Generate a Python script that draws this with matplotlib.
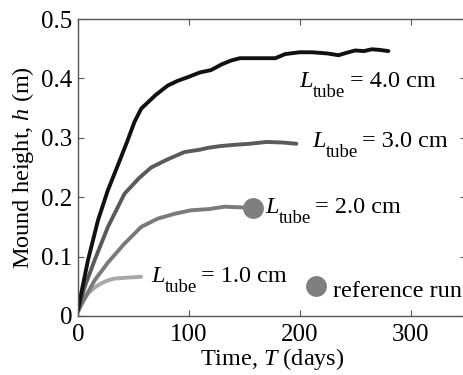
import matplotlib
matplotlib.use("Agg")
import matplotlib.pyplot as plt

plt.rcParams['font.family'] = ['Liberation Serif', 'DejaVu Serif']
plt.rcParams['mathtext.fontset'] = 'custom'
plt.rcParams['mathtext.rm'] = 'Liberation Serif'
plt.rcParams['mathtext.it'] = 'Liberation Serif:italic'

# Data
t_40 = [0, 3, 9, 18, 27, 36, 44, 51, 57, 70, 81, 90, 99, 110, 120, 130, 138, 146,
        160, 173, 178, 187, 200, 211, 225, 235, 242, 250, 258, 265, 272, 280]
h_40 = [0.01, 0.039, 0.094, 0.161, 0.212, 0.254, 0.292, 0.327, 0.349, 0.372, 0.388,
        0.396, 0.402, 0.410, 0.414, 0.424, 0.430, 0.434, 0.434, 0.434, 0.434, 0.441,
        0.444, 0.444, 0.442, 0.439, 0.443, 0.447, 0.446, 0.449, 0.448, 0.446]

t_30 = [0, 6, 15, 27, 42, 55, 66, 80, 96, 110, 117, 128, 140, 155, 170, 185, 197]
h_30 = [0.01, 0.049, 0.094, 0.150, 0.206, 0.232, 0.250, 0.263, 0.276, 0.280, 0.283,
        0.286, 0.288, 0.290, 0.293, 0.292, 0.290]

t_20 = [0, 6, 15, 27, 42, 57, 72, 87, 102, 118, 132, 145, 158]
h_20 = [0.008, 0.03, 0.06, 0.09, 0.122, 0.150, 0.164, 0.172, 0.178, 0.180, 0.184,
        0.183, 0.182]

t_10 = [0, 2, 9, 15, 21, 27, 33, 40, 48, 57]
h_10 = [0.005, 0.016, 0.038, 0.048, 0.055, 0.060, 0.063, 0.064, 0.065, 0.066]

ref_point = (158, 0.181)
legend_point = (215, 0.050)

label_values = ['= 4.0 cm', '= 3.0 cm', '= 2.0 cm', '= 1.0 cm']
label_pos = [(200, 0.385), (211, 0.285), (169, 0.173), (66, 0.058)]

x_ticks = [0, 100, 200, 300]
y_ticks = [0, 0.1, 0.2, 0.3, 0.4, 0.5]
y_ticklabels = ['0', '0.1', '0.2', '0.3', '0.4', '0.5']

fig = plt.figure(figsize=(4.64, 3.75), dpi=100)
ax = fig.add_axes([78/464, 1-316/375, (466-78)/464, (316-19)/375])

ax.plot(t_10, h_10, color='#a8a8a8', lw=2.8, solid_capstyle='round')
ax.plot(t_20, h_20, color='#7a7a7a', lw=2.8, solid_capstyle='round')
ax.plot(t_30, h_30, color='#5a5a5a', lw=2.8, solid_capstyle='round')
ax.plot(t_40, h_40, color='#111111', lw=2.8, solid_capstyle='round')

ax.plot([ref_point[0]], [ref_point[1]], 'o', color='#7f7f7f', ms=15, mec='none')
ax.plot([legend_point[0]], [legend_point[1]], 'o', color='#7f7f7f', ms=15, mec='none')
ax.text(230, 0.0325, 'reference run', fontsize=17.5, va='baseline', ha='left')

px = 0.72  # points per pixel at 100 dpi
for val, (x, y) in zip(label_values, label_pos):
    ax.annotate('L', (x, y), fontsize=17.5, style='italic', va='baseline', ha='left')
    ax.annotate('tube', (x, y), xytext=(13.5*px, -10*px), textcoords='offset points',
                fontsize=13.5, va='baseline', ha='left')
    ax.annotate(val, (x, y), xytext=(50*px, 0), textcoords='offset points',
                fontsize=17.5, va='baseline', ha='left')

ax.set_xlim(0, 350)
ax.set_ylim(0, 0.5)
ax.set_xticks(x_ticks)
ax.set_yticks(y_ticks)
ax.set_yticklabels(y_ticklabels)
ax.tick_params(direction='in', top=True, right=True, length=4, width=0.8,
               color='#555555', labelsize=18)
ax.tick_params(axis='x', pad=6)
ax.tick_params(axis='y', pad=4)
for s in ax.spines.values():
    s.set_color('#555555')
    s.set_linewidth(1.0)

ax.set_xlabel(r'Time, $T$ (days)', fontsize=17.5, labelpad=0)
ax.set_ylabel(r'Mound height, $h$ (m)', fontsize=17.5, labelpad=4)

fig.savefig('out.png', dpi=100)
